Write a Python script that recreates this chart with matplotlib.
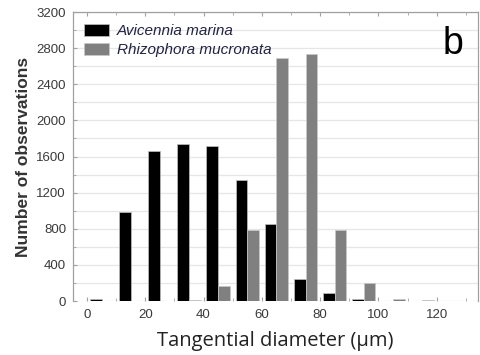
import numpy as np
import matplotlib.pyplot as plt
from matplotlib.ticker import MultipleLocator

# diameter classes (lower edge of each 10 um bin)
bins = [-10, 0, 10, 20, 30, 40, 50, 60, 70, 80, 90, 100, 110, 120]
avicennia = [0, 25, 990, 1660, 1740, 1720, 1340, 850, 245, 90, 20, 5, 0, 0]
rhizophora = [0, 0, 0, 0, 8, 170, 782, 2695, 2735, 785, 200, 28, 6, 4]

fig = plt.figure(figsize=(4.8, 3.55), dpi=100)
ax = fig.add_axes([0.152, 0.152, 0.844, 0.814])

x = np.array(bins, dtype=float)
ax.bar(x + 3, avicennia, width=4, color='black', edgecolor='#c0c0c0',
       linewidth=0.5, label='Avicennia marina', zorder=3)
ax.bar(x + 7, rhizophora, width=4, color='#808080', edgecolor='#c8c8c8',
       linewidth=0.5, label='Rhizophora mucronata', zorder=3)

ax.set_xlim(-4.8, 134.2)
ax.set_ylim(0, 3200)

ax.xaxis.set_major_locator(MultipleLocator(20))
ax.xaxis.set_minor_locator(MultipleLocator(10))
ax.yaxis.set_major_locator(MultipleLocator(400))
ax.yaxis.set_minor_locator(MultipleLocator(200))

ax.grid(True, which='both', axis='y', color='#e6e6e6', linewidth=0.9, zorder=0)

for side in ['top', 'left', 'right']:
    ax.spines[side].set_color('#a0a0a0')
    ax.spines[side].set_linewidth(0.9)
ax.spines['bottom'].set_visible(False)

ax.tick_params(axis='both', which='both', direction='in', color='#a0a0a0',
               top=True, right=False, labelsize=9.5, labelcolor='#3a3a3a')
ax.tick_params(axis='both', which='major', length=3)
ax.tick_params(axis='both', which='minor', length=2)
ax.tick_params(axis='x', pad=6)
ax.tick_params(axis='y', pad=5)

for lab in ax.get_xticklabels() + ax.get_yticklabels():
    lab.set_family('Liberation Sans')

ax.set_ylabel('Number of observations', family='Liberation Sans',
              fontsize=12.5, fontweight='bold', color='#333333', labelpad=4)
ax.set_xlabel('Tangential diameter (\u03bcm)', family='Open Sans',
              fontsize=14.5, color='#222222', labelpad=7)

leg = ax.legend(loc='upper left', bbox_to_anchor=(0.0, 1.0), frameon=False,
                prop={'family': 'Liberation Sans', 'style': 'italic', 'size': 11},
                handlelength=1.6, handleheight=0.9, handletextpad=0.5,
                labelspacing=0.3, borderaxespad=0.35)
for t in leg.get_texts():
    t.set_color('#222244')

ax.text(0.965, 0.89, 'b', transform=ax.transAxes, ha='right', va='center',
        family='Liberation Sans', fontsize=27, color='black')

plt.savefig('out.png', dpi=100)
